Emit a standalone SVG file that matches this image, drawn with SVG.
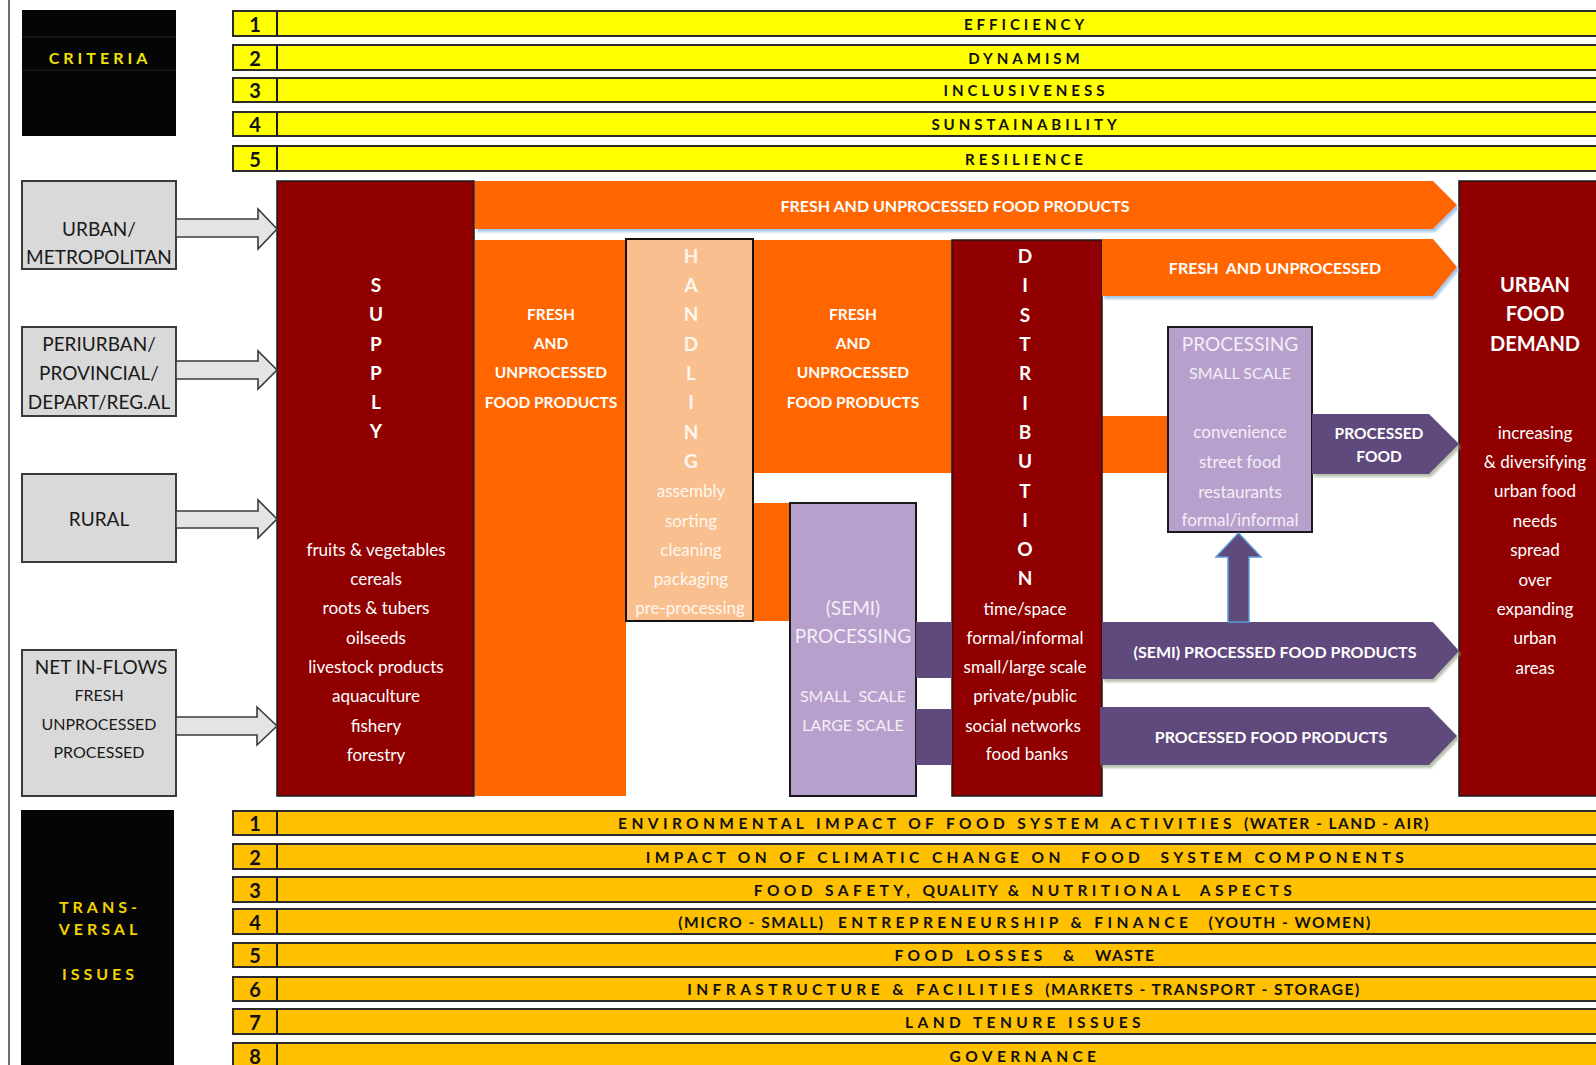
<svg xmlns="http://www.w3.org/2000/svg" width="1596" height="1065" viewBox="0 0 1596 1065">
<defs>
<style>
text{font-family:Lato,"Liberation Sans",sans-serif;dominant-baseline:central;text-anchor:middle}
.crit{fill:#ffff00;stroke:#2b2b2b;stroke-width:2}
.trans{fill:#ffc000;stroke:#2b2b2b;stroke-width:2}
.div{stroke:#1a1a1a;stroke-width:2}
.num{font-size:20px;font-weight:700;fill:#111}
.ctx{font-size:15px;font-weight:700;fill:#111;letter-spacing:4px}
.ttx{font-size:15.5px;font-weight:700;fill:#111;letter-spacing:4.4px}
.nrw{letter-spacing:1.5px}
.hdr{font-size:16px;font-weight:700;letter-spacing:4px}
.gbox{fill:#d9d9d9;stroke:#3a3a3a;stroke-width:2}
.glab{font-size:19px;fill:#1a1a1a}
.gsub{font-size:16px;fill:#1a1a1a}
.garrow{fill:#e4e4e4;stroke:#3a3a3a;stroke-width:1.6}
.dred{fill:#900000;stroke:#1a1a1a;stroke-width:1.5}
.orng{fill:#ff6600}
.peach{fill:#f9bf8f;stroke:#111;stroke-width:2}
.lav{fill:#b8a0cc;stroke:#1a1a1a;stroke-width:2}
.purp{fill:#604a7b}
.big{font-size:19px;font-weight:700;fill:#fff}
.itm{font-size:17px;fill:#fff}
.obt{font-size:15.5px;font-weight:700;fill:#fff}
.bnd{font-size:16px;font-weight:700;fill:#fff}
.ltx{fill:#f3eef8}
.htx{fill:#fff7ef}
</style>
<filter id="sh" x="-5%" y="-20%" width="110%" height="150%">
<feDropShadow dx="2" dy="3" stdDeviation="1" flood-color="#9cc2e5" flood-opacity="0.9"/>
</filter>
<filter id="shp" x="-5%" y="-20%" width="110%" height="150%">
<feDropShadow dx="2" dy="3" stdDeviation="1.2" flood-color="#9aa78a" flood-opacity="0.7"/>
</filter>
</defs>
<rect x="0" y="0" width="1596" height="1065" fill="#ffffff"/>
<line x1="9" y1="0" x2="9" y2="1065" stroke="#6e6e6e" stroke-width="2"/>

<!-- CRITERIA header -->
<g id="criteria-header">
<rect x="22" y="10" width="154" height="126" fill="#050505"/>
<line x1="22" y1="37" x2="176" y2="37" stroke="#222" stroke-width="1"/>
<line x1="22" y1="70" x2="176" y2="70" stroke="#222" stroke-width="1"/>
<text x="100" y="57" class="hdr" fill="#f2e200">CRITERIA</text>
</g>

<!-- criteria bars -->
<g id="criteria-1"><rect class="crit" x="233" y="11" width="1370" height="25"/><line class="div" x1="277" y1="11" x2="277" y2="36"/><text class="num" x="255" y="24">1</text><text class="ctx" x="1026" y="24">EFFICIENCY</text></g>
<g id="criteria-2"><rect class="crit" x="233" y="45" width="1370" height="25"/><line class="div" x1="277" y1="45" x2="277" y2="70"/><text class="num" x="255" y="58">2</text><text class="ctx" x="1026" y="58">DYNAMISM</text></g>
<g id="criteria-3"><rect class="crit" x="233" y="78" width="1370" height="24"/><line class="div" x1="277" y1="78" x2="277" y2="102"/><text class="num" x="255" y="90">3</text><text class="ctx" x="1026" y="90">INCLUSIVENESS</text></g>
<g id="criteria-4"><rect class="crit" x="233" y="112" width="1370" height="24"/><line class="div" x1="277" y1="112" x2="277" y2="136"/><text class="num" x="255" y="124">4</text><text class="ctx" x="1026" y="124">SUNSTAINABILITY</text></g>
<g id="criteria-5"><rect class="crit" x="233" y="146" width="1370" height="25"/><line class="div" x1="277" y1="146" x2="277" y2="171"/><text class="num" x="255" y="159">5</text><text class="ctx" x="1026" y="159">RESILIENCE</text></g>

<!-- origin boxes -->
<g id="urban-metropolitan"><rect class="gbox" x="22" y="181" width="154" height="88"/><text class="glab" x="99" y="228">URBAN/</text><text class="glab" x="99" y="256">METROPOLITAN</text></g>
<g id="periurban"><rect class="gbox" x="22" y="327" width="154" height="89"/><text class="glab" x="99" y="343">PERIURBAN/</text><text class="glab" x="99" y="372">PROVINCIAL/</text><text class="glab" x="99" y="401">DEPART/REG.AL</text></g>
<g id="rural"><rect class="gbox" x="22" y="474" width="154" height="88"/><text class="glab" x="99" y="518">RURAL</text></g>
<g id="net-inflows"><rect class="gbox" x="22" y="650" width="154" height="146"/><text class="glab" x="101" y="666">NET IN-FLOWS</text><text class="gsub" x="99" y="694">FRESH</text><text class="gsub" x="99" y="723">UNPROCESSED</text><text class="gsub" x="99" y="751">PROCESSED</text></g>

<!-- orange flow blocks -->
<g id="fresh-block-1"><rect class="orng" x="475" y="240" width="151" height="556"/><text class="obt" x="551" y="314">FRESH</text><text class="obt" x="551" y="343">AND</text><text class="obt" x="551" y="372">UNPROCESSED</text><text class="obt" x="551" y="402">FOOD PRODUCTS</text></g>
<g id="fresh-block-2"><rect class="orng" x="753" y="240" width="199" height="233"/><rect class="orng" x="753" y="503" width="37" height="118"/><text class="obt" x="853" y="314">FRESH</text><text class="obt" x="853" y="343">AND</text><text class="obt" x="853" y="372">UNPROCESSED</text><text class="obt" x="853" y="402">FOOD PRODUCTS</text></g>
<g id="fresh-block-3"><rect class="orng" x="1102" y="416" width="66" height="57"/></g>

<!-- supply -->
<g id="supply">
<rect class="dred" x="277" y="181" width="197" height="615"/>
<text class="big" x="376" y="284">S</text><text class="big" x="376" y="313">U</text><text class="big" x="376" y="343">P</text><text class="big" x="376" y="372">P</text><text class="big" x="376" y="401">L</text><text class="big" x="376" y="430">Y</text>
<text class="itm" x="376" y="549">fruits &amp; vegetables</text><text class="itm" x="376" y="578">cereals</text><text class="itm" x="376" y="607">roots &amp; tubers</text><text class="itm" x="376" y="637">oilseeds</text><text class="itm" x="376" y="666">livestock products</text><text class="itm" x="376" y="695">aquaculture</text><text class="itm" x="376" y="725">fishery</text><text class="itm" x="376" y="754">forestry</text>
</g>

<!-- handling -->
<g id="handling">
<rect class="peach" x="626" y="239" width="127" height="382"/>
<text class="big htx" x="691" y="255">H</text><text class="big htx" x="691" y="284">A</text><text class="big htx" x="691" y="313">N</text><text class="big htx" x="691" y="343">D</text><text class="big htx" x="691" y="372">L</text><text class="big htx" x="691" y="401">I</text><text class="big htx" x="691" y="431">N</text><text class="big htx" x="691" y="460">G</text>
<text class="itm htx" x="691" y="490">assembly</text><text class="itm htx" x="691" y="520">sorting</text><text class="itm htx" x="691" y="549">cleaning</text><text class="itm htx" x="691" y="578">packaging</text><text class="itm htx" x="690" y="607">pre-processing</text>
</g>

<!-- semi processing -->
<g id="semi-processing">
<rect class="lav" x="790" y="503" width="126" height="293"/>
<text class="ltx" x="853" y="607" font-size="19">(SEMI)</text><text class="ltx" x="853" y="635" font-size="19">PROCESSING</text>
<text class="ltx" x="853" y="695" font-size="16">SMALL&#160; SCALE</text><text class="ltx" x="853" y="724" font-size="16">LARGE SCALE</text>
</g>

<!-- distribution -->
<g id="distribution">
<rect class="dred" x="952" y="240" width="150" height="556"/>
<text class="big" x="1025" y="255">D</text><text class="big" x="1025" y="284">I</text><text class="big" x="1025" y="314">S</text><text class="big" x="1025" y="343">T</text><text class="big" x="1025" y="372">R</text><text class="big" x="1025" y="402">I</text><text class="big" x="1025" y="431">B</text><text class="big" x="1025" y="460">U</text><text class="big" x="1025" y="490">T</text><text class="big" x="1025" y="519">I</text><text class="big" x="1025" y="548">O</text><text class="big" x="1025" y="577">N</text>
<text class="itm" x="1025" y="608">time/space</text><text class="itm" x="1025" y="637">formal/informal</text><text class="itm" x="1025" y="666">small/large scale</text><text class="itm" x="1025" y="695">private/public</text><text class="itm" x="1023" y="725">social networks</text><text class="itm" x="1027" y="753">food banks</text>
</g>

<!-- processing small scale -->
<g id="processing">
<rect class="lav" x="1168" y="327" width="144" height="205"/>
<text class="ltx" x="1240" y="343" font-size="19">PROCESSING</text><text class="ltx" x="1240" y="372" font-size="16">SMALL SCALE</text>
<text class="ltx" x="1240" y="431" font-size="17">convenience</text><text class="ltx" x="1240" y="461" font-size="17">street food</text><text class="ltx" x="1240" y="491" font-size="17">restaurants</text><text class="ltx" x="1240" y="519" font-size="17">formal/informal</text>
</g>

<!-- urban food demand -->
<g id="urban-food-demand">
<rect class="dred" x="1459" y="181" width="145" height="615"/>
<text x="1535" y="284" font-size="20" font-weight="700" fill="#fff">URBAN</text><text x="1535" y="313" font-size="20" font-weight="700" fill="#fff">FOOD</text><text x="1535" y="343" font-size="20" font-weight="700" fill="#fff">DEMAND</text>
<text class="itm" x="1535" y="432">increasing</text><text class="itm" x="1535" y="461">&amp; diversifying</text><text class="itm" x="1535" y="490">urban food</text><text class="itm" x="1535" y="520">needs</text><text class="itm" x="1535" y="549">spread</text><text class="itm" x="1535" y="579">over</text><text class="itm" x="1535" y="608">expanding</text><text class="itm" x="1535" y="637">urban</text><text class="itm" x="1535" y="667">areas</text>
</g>

<!-- connectors -->
<g id="connectors">
<polygon class="garrow" points="176,219 258,219 258,209 277,229 258,249 258,237 176,237"/>
<polygon class="garrow" points="176,361 258,361 258,351 277,370 258,389 258,379 176,379"/>
<polygon class="garrow" points="176,511 258,511 258,500 277,519 258,538 258,528 176,528"/>
<polygon class="garrow" points="176,717 257,717 257,707 277,726 257,745 257,735 176,735"/>

<g id="flow-fresh-top">
<polygon class="orng" filter="url(#sh)" points="475,181 1433,181 1457,205 1433,229 475,229"/>
<text class="bnd" x="955" y="205">FRESH AND UNPROCESSED FOOD PRODUCTS</text>
</g>
<g id="flow-fresh-2">
<polygon class="orng" filter="url(#sh)" points="1102,239 1433,239 1457,267 1433,296 1102,296"/>
<text class="bnd" x="1275" y="267">FRESH&#160; AND UNPROCESSED</text>
</g>
<rect class="purp" x="916" y="622" width="36" height="56"/>
<rect class="purp" x="916" y="709" width="36" height="56"/>
<g id="flow-processed-food">
<polygon class="purp" filter="url(#shp)" points="1312,414 1429,414 1459,444 1429,474 1312,474"/>
<text class="obt" x="1379" y="433">PROCESSED</text><text class="obt" x="1379" y="456">FOOD</text>
</g>
<g id="flow-semi-processed">
<polygon class="purp" filter="url(#shp)" points="1102,622 1433,622 1459,651 1433,679 1102,679"/>
<text class="bnd" x="1275" y="651">(SEMI) PROCESSED FOOD PRODUCTS</text>
</g>
<g id="flow-processed-products">
<polygon class="purp" filter="url(#shp)" points="1100,707 1429,707 1457,736 1429,765 1100,765"/>
<text class="bnd" x="1271" y="736">PROCESSED FOOD PRODUCTS</text>
</g>
<polygon class="purp" stroke="#5b9bd5" stroke-width="1.5" points="1228,622 1228,557 1216,557 1238.5,533 1261,557 1249,557 1249,622"/>
</g>

<!-- TRANSVERSAL header -->
<g id="transversal-header">
<rect x="21" y="810" width="153" height="260" fill="#050505"/>
<text x="100" y="906" class="hdr" fill="#f2d200">TRANS-</text>
<text x="100" y="928" class="hdr" fill="#f2d200">VERSAL</text>
<text x="100" y="973" class="hdr" fill="#f2d200">ISSUES</text>
</g>

<g id="issue-1"><rect class="trans" x="233" y="811" width="1370" height="24"/><line class="div" x1="277" y1="811" x2="277" y2="835"/><text class="num" x="255" y="823">1</text><text class="ttx" x="1024" y="823">ENVIRONMENTAL IMPACT OF FOOD SYSTEM ACTIVITIES <tspan class="nrw">(WATER - LAND - AIR)</tspan></text></g>
<g id="issue-2"><rect class="trans" x="233" y="844" width="1370" height="25"/><line class="div" x1="277" y1="844" x2="277" y2="869"/><text class="num" x="255" y="857">2</text><text class="ttx" x="1027" y="857">IMPACT ON OF CLIMATIC CHANGE ON&#160; FOOD&#160; SYSTEM COMPONENTS</text></g>
<g id="issue-3"><rect class="trans" x="233" y="877" width="1370" height="25"/><line class="div" x1="277" y1="877" x2="277" y2="902"/><text class="num" x="255" y="890">3</text><text class="ttx" x="1025" y="890">FOOD SAFETY, <tspan class="nrw">QUALITY</tspan> &amp; NUTRITIONAL&#160; ASPECTS</text></g>
<g id="issue-4"><rect class="trans" x="233" y="909" width="1370" height="25"/><line class="div" x1="277" y1="909" x2="277" y2="934"/><text class="num" x="255" y="922">4</text><text class="ttx" x="1025" y="922"><tspan class="nrw">(MICRO - SMALL)&#160;</tspan> ENTREPRENEURSHIP &amp; FINANCE&#160; <tspan class="nrw">(YOUTH - WOMEN)</tspan></text></g>
<g id="issue-5"><rect class="trans" x="233" y="943" width="1370" height="24"/><line class="div" x1="277" y1="943" x2="277" y2="967"/><text class="num" x="255" y="955">5</text><text class="ttx" x="1025" y="955">FOOD LOSSES&#160; &amp;&#160; <tspan class="nrw">WASTE</tspan></text></g>
<g id="issue-6"><rect class="trans" x="233" y="977" width="1370" height="24"/><line class="div" x1="277" y1="977" x2="277" y2="1001"/><text class="num" x="255" y="989">6</text><text class="ttx" x="1024" y="989">INFRASTRUCTURE &amp; FACILITIES <tspan class="nrw">(MARKETS - TRANSPORT - STORAGE)</tspan></text></g>
<g id="issue-7"><rect class="trans" x="233" y="1009" width="1370" height="25"/><line class="div" x1="277" y1="1009" x2="277" y2="1034"/><text class="num" x="255" y="1022">7</text><text class="ttx" x="1025" y="1022">LAND TENURE ISSUES</text></g>
<g id="issue-8"><rect class="trans" x="233" y="1043" width="1370" height="30"/><line class="div" x1="277" y1="1043" x2="277" y2="1068"/><text class="num" x="255" y="1056">8</text><text class="ttx" x="1025" y="1056">GOVERNANCE</text></g>
</svg>
